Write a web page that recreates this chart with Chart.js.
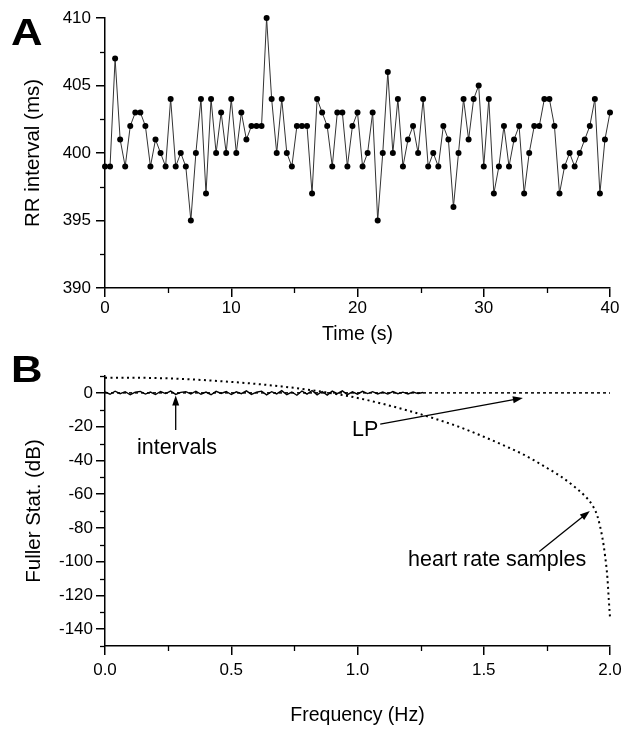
<!DOCTYPE html>
<html><head><meta charset="utf-8">
<script src="https://cdn.jsdelivr.net/npm/chart.js@4/dist/chart.umd.min.js"></script>
<style>
html,body{margin:0;padding:0;background:#fff;}
body{width:631px;height:730px;position:relative;overflow:hidden;}
canvas{position:absolute;left:0;}
#ca{top:0;}
#cb{top:340px;}
</style></head>
<body>
<canvas id="ca" width="631" height="360"></canvas>
<canvas id="cb" width="631" height="390"></canvas>
<script>
// ---------- Panel A data ----------
const timeA = [0,0.4,0.8,1.2,1.6,2,2.4,2.8,3.2,3.6,4,4.4,4.8,5.2,5.6,6,6.4,6.8,7.2,7.6,8,8.4,8.8,9.2,9.6,10,10.4,10.8,11.2,11.6,12,12.4,12.8,13.2,13.6,14,14.4,14.8,15.2,15.6,16,16.4,16.8,17.2,17.6,18,18.4,18.8,19.2,19.6,20,20.4,20.8,21.2,21.6,22,22.4,22.8,23.2,23.6,24,24.4,24.8,25.2,25.6,26,26.4,26.8,27.2,27.6,28,28.4,28.8,29.2,29.6,30,30.4,30.8,31.2,31.6,32,32.4,32.8,33.2,33.6,34,34.4,34.8,35.2,35.6,36,36.4,36.8,37.2,37.6,38,38.4,38.8,39.2,39.6,40];
const rrA = [399,399,407,401,399,402,403,403,402,399,
             401,400,399,404,399,400,399,395,400,404,
             397,404,400,403,400,404,400,403,401,402,
             402,402,410,404,400,404,400,399,402,402,
             402,397,404,403,402,399,403,403,399,402,
             403,399,400,403,395,400,406,400,404,399,
             401,402,400,404,399,400,399,402,401,396,
             400,404,401,404,405,399,404,397,399,402,
             399,401,402,397,400,402,402,404,404,402,
             397,399,400,399,400,401,402,404,397,401,
             403];
const xTicksA = [0,10,20,30,40];
const xMinorA = [5,15,25,35];
const yTicksA = [390,395,400,405,410];
const yMinorA = [392.5,397.5,402.5,407.5];

// ---------- Panel B data ----------
const freqInt = [0,0.02,0.04,0.06,0.08,0.1,0.12,0.14,0.16,0.18,0.2,0.22,0.24,0.26,0.28,0.3,0.32,0.34,0.36,0.38,0.4,0.42,0.44,0.46,0.48,0.5,0.52,0.54,0.56,0.58,0.6,0.62,0.64,0.66,0.68,0.7,0.72,0.74,0.76,0.78,0.8,0.82,0.84,0.86,0.88,0.9,0.92,0.94,0.96,0.98,1,1.02,1.04,1.06,1.08,1.1,1.12,1.14,1.16,1.18,1.2,1.22,1.24,1.26];
const dbInt = [0.6,-0.8,1.0,-0.5,0.7,-1.1,0.4,0.9,-0.7,0.5,-1.0,0.8,-0.4,1.1,-0.9,0.3,0.7,-0.6,1.0,-0.8,0.5,-1.1,0.9,-0.3,0.8,-1.0,0.6,-0.5,1.2,-0.9,0.4,1.0,-1.2,0.7,-0.6,1.3,-1.1,0.5,-1.4,1.1,-0.7,1.4,-1.2,0.8,-1.3,1.0,-0.5,1.2,-1.0,0.6,-0.8,0.9,-0.4,0.7,-0.6,0.5,-0.7,0.8,-0.5,0.4,-0.6,0.5,-0.4,0.2];
const freqLP = [0,2.0];
const dbLP = [0,0];
const freqHR = [0,0.1,0.2,0.3,0.4,0.5,0.6,0.7,0.8,0.9,1.0,1.1,1.2,1.3,1.4,1.5,1.6,1.65,1.7,1.75,1.8,1.85,1.9,1.93,1.95,1.97,1.98,1.99,1.995,2.0];
const dbHR = [9,9,8.8,8.3,7.5,6.5,5.3,3.8,2,-0.3,-3,-6.5,-10.5,-15,-20,-26,-32.5,-36,-40,-44.5,-49,-54.5,-61,-66.5,-73,-86,-96,-110,-122,-133];
const xTicksB = [0,0.5,1.0,1.5,2.0];
const xMinorB = [0.25,0.75,1.25,1.75];
const yTicksB = [0,-20,-40,-60,-80,-100,-120,-140];
const yMinorB = [10,-10,-30,-50,-70,-90,-110,-130,-150];

const FONT = '"Liberation Sans", Arial, Helvetica, sans-serif';
Chart.defaults.color = '#000';
Chart.defaults.font.family = FONT;

const pts = (xs, ys) => xs.map((v, i) => ({x: v, y: ys[i]}));

const minorTicks = {
  id: 'minorTicks',
  afterDraw(chart, args, o) {
    const ctx = chart.ctx, sx = chart.scales.x, sy = chart.scales.y;
    ctx.save();
    ctx.strokeStyle = '#000';
    ctx.lineWidth = 1.3;
    o.xMinor.forEach(v => {
      const p = Math.round(sx.getPixelForValue(v)) + 0.5;
      ctx.beginPath(); ctx.moveTo(p, sx.top); ctx.lineTo(p, sx.top + o.len); ctx.stroke();
    });
    o.yMinor.forEach(v => {
      const p = Math.round(sy.getPixelForValue(v)) + 0.5;
      ctx.beginPath(); ctx.moveTo(sy.right, p); ctx.lineTo(sy.right - o.len, p); ctx.stroke();
    });
    // panel letter
    ctx.fillStyle = '#000';
    ctx.font = 'bold 37px ' + FONT;
    ctx.textAlign = 'left';
    ctx.textBaseline = 'alphabetic';
    ctx.translate(o.lx, o.ly);
    ctx.scale(1.18, 1);
    ctx.fillText(o.letter, 0, 0);
    ctx.restore();
  }
};

function arrow(ctx, x1, y1, x2, y2) {
  const a = Math.atan2(y2 - y1, x2 - x1), L = 10, W = 3.5;
  ctx.beginPath(); ctx.moveTo(x1, y1); ctx.lineTo(x2 - (L - 2) * Math.cos(a), y2 - (L - 2) * Math.sin(a)); ctx.stroke();
  ctx.beginPath();
  ctx.moveTo(x2, y2);
  ctx.lineTo(x2 - L * Math.cos(a) + W * Math.sin(a), y2 - L * Math.sin(a) - W * Math.cos(a));
  ctx.lineTo(x2 - L * Math.cos(a) - W * Math.sin(a), y2 - L * Math.sin(a) + W * Math.cos(a));
  ctx.closePath(); ctx.fill();
}

const notes = {
  id: 'notes',
  afterDatasetsDraw(chart, args, o) {
    const ctx = chart.ctx, sx = chart.scales.x, sy = chart.scales.y;
    ctx.save();
    ctx.fillStyle = '#000'; ctx.strokeStyle = '#000'; ctx.lineWidth = 1.3;
    ctx.font = '21.5px ' + FONT;
    ctx.textAlign = 'center'; ctx.textBaseline = 'middle';
    o.items.forEach(it => {
      ctx.fillText(it.text, sx.getPixelForValue(it.tx), sy.getPixelForValue(it.ty));
      arrow(ctx, sx.getPixelForValue(it.a[0]), sy.getPixelForValue(it.a[1]),
                 sx.getPixelForValue(it.a[2]), sy.getPixelForValue(it.a[3]));
    });
    ctx.restore();
  }
};

const gridOpts = {drawOnChartArea: false, drawTicks: true, tickLength: 9, color: '#000', lineWidth: 1.5};
const borderOpts = {display: true, color: '#000', width: 1.5};

// ---------- Panel A ----------
new Chart(document.getElementById('ca'), {
  type: 'line',
  data: {datasets: [{
    label: 'RR interval',
    data: pts(timeA, rrA),
    borderColor: '#333', borderWidth: 1,
    pointRadius: 3, pointBackgroundColor: '#000', pointBorderWidth: 0,
    tension: 0, clip: false
  }]},
  options: {
    responsive: false, animation: false, events: [],
    layout: {padding: {top: 18, right: 21, left: 0, bottom: 0}},
    plugins: {legend: {display: false}, tooltip: {enabled: false},
      minorTicks: {xMinor: xMinorA, yMinor: yMinorA, len: 5, letter: 'A', lx: 11, ly: 45}},
    scales: {
      x: {type: 'linear', min: 0, max: 40,
        afterBuildTicks: s => { s.ticks = xTicksA.map(v => ({value: v})); },
        afterFit: s => { s.height = 72; },
        grid: gridOpts, border: borderOpts,
        ticks: {font: {size: 17}, color: '#000', padding: 1, maxRotation: 0, autoSkip: false},
        title: {display: true, text: 'Time (s)', font: {size: 19.5}, color: '#000', padding: {top: 0, bottom: 14}}
      },
      y: {type: 'linear', min: 390, max: 410,
        afterBuildTicks: s => { s.ticks = yTicksA.map(v => ({value: v})); },
        afterFit: s => { s.width = 105; },
        grid: gridOpts, border: borderOpts,
        ticks: {font: {size: 17}, color: '#000', padding: 5},
        title: {display: true, text: 'RR interval (ms)', font: {size: 20.5}, color: '#000', padding: {top: 21, bottom: 0}}
      }
    }
  },
  plugins: [minorTicks]
});

// ---------- Panel B ----------
new Chart(document.getElementById('cb'), {
  type: 'line',
  data: {datasets: [
    {label: 'intervals', data: pts(freqInt, dbInt), borderColor: '#000', borderWidth: 1.4, pointRadius: 0, tension: 0},
    {label: 'LP', data: pts(freqLP, dbLP), borderColor: '#000', borderWidth: 1.5, borderDash: [3, 3], pointRadius: 0, tension: 0},
    {label: 'heart rate samples', data: pts(freqHR, dbHR), borderColor: '#000', borderWidth: 2, borderDash: [2, 3.5], pointRadius: 0, tension: 0.3, cubicInterpolationMode: 'monotone', clip: false}
  ]},
  options: {
    responsive: false, animation: false, events: [],
    layout: {padding: {top: 36, right: 21, left: 0, bottom: 0}},
    plugins: {legend: {display: false}, tooltip: {enabled: false},
      minorTicks: {xMinor: xMinorB, yMinor: yMinorB, len: 5, letter: 'B', lx: 11, ly: 42},
      notes: {items: [
        {text: 'intervals', tx: 0.285, ty: -33, a: [0.28, -22, 0.28, -1.5]},
        {text: 'LP', tx: 1.03, ty: -22, a: [1.09, -18.5, 1.655, -3]},
        {text: 'heart rate samples', tx: 1.553, ty: -99, a: [1.72, -94, 1.92, -70]}
      ]}
    },
    scales: {
      x: {type: 'linear', min: 0, max: 2,
        afterBuildTicks: s => { s.ticks = xTicksB.map(v => ({value: v})); },
        afterFit: s => { s.height = 84; },
        grid: gridOpts, border: borderOpts,
        ticks: {font: {size: 17}, color: '#000', padding: 5, maxRotation: 0, autoSkip: false,
          callback: v => Number(v).toFixed(1)},
        title: {display: true, text: 'Frequency (Hz)', font: {size: 19.5}, color: '#000', padding: {top: 0, bottom: 2.3}}
      },
      y: {type: 'linear', min: -150, max: 10,
        afterBuildTicks: s => { s.ticks = yTicksB.map(v => ({value: v})); },
        afterFit: s => { s.width = 105; },
        grid: gridOpts, border: borderOpts,
        ticks: {font: {size: 17}, color: '#000', padding: 3},
        title: {display: true, text: 'Fuller Stat. (dB)', font: {size: 20.5}, color: '#000', padding: {top: 22, bottom: 0}}
      }
    }
  },
  plugins: [minorTicks, notes]
});
</script>
</body></html>
